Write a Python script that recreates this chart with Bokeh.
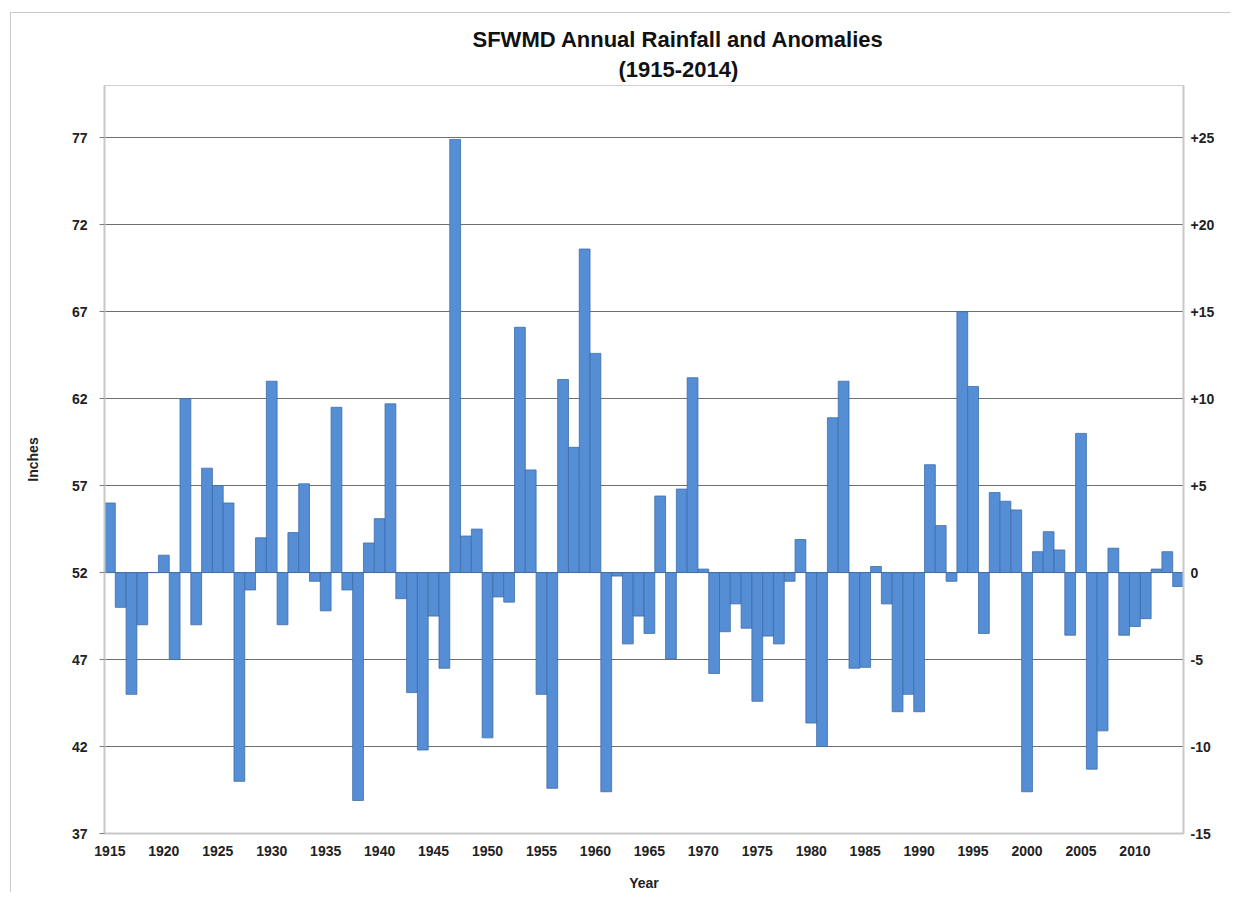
from bokeh.plotting import figure
from bokeh.models import (Range1d, LinearAxis, FixedTicker, Title, ColumnDataSource)
from bokeh.embed import file_html
from bokeh.resources import INLINE

years = list(range(1915, 2015))
rainfall = [
    56.0, 50.0, 45.0, 49.0, 52.0, 53.0, 47.0, 62.0, 49.0, 58.0,   # 1915-1924
    57.0, 56.0, 40.0, 51.0, 54.0, 63.0, 49.0, 54.3, 57.1, 51.5,   # 1925-1934
    49.8, 61.5, 51.0, 38.9, 53.7, 55.1, 61.7, 50.5, 45.1, 41.8,   # 1935-1944
    49.5, 46.5, 76.9, 54.1, 54.5, 42.5, 50.6, 50.3, 66.1, 57.9,   # 1945-1954
    45.0, 39.6, 63.1, 59.2, 70.6, 64.6, 39.4, 51.8, 47.9, 49.5,   # 1955-1964
    48.5, 56.4, 47.05, 56.8, 63.2, 52.2, 46.2, 48.6, 50.2, 48.8,  # 1965-1974
    44.6, 48.35, 47.9, 51.5, 53.9, 43.35, 42.0, 60.9, 63.0, 46.5, # 1975-1984
    46.55, 52.35, 50.2, 44.0, 45.0, 44.0, 58.2, 54.7, 51.5, 67.0, # 1985-1994
    62.7, 48.5, 56.6, 56.1, 55.6, 39.4, 53.2, 54.35, 53.3, 48.4,  # 1995-2004
    60.0, 40.7, 42.9, 53.4, 48.4, 48.9, 49.35, 52.2, 53.2, 51.2,  # 2005-2014
]
baseline = 52.0
left_ticks = [37, 42, 47, 52, 57, 62, 67, 72, 77]
right_ticks = [-15, -10, -5, 0, 5, 10, 15, 20, 25]
right_labels = ["-15", "-10", "-5", "0", "+5", "+10", "+15", "+20", "+25"]
x_ticks = list(range(1915, 2011, 5))

src = ColumnDataSource(dict(x=years, top=rainfall, bottom=[baseline] * len(years)))

FONT = "Liberation Sans"

p = figure(width=1220, height=880, output_backend="svg", toolbar_location=None,
           x_range=Range1d(1914.5, 2014.5), y_range=Range1d(37, 80),
           min_border_left=93, min_border_right=48, min_border_top=72, min_border_bottom=57,
           margin=(12, 0, 0, 10),
           styles={"border-top": "1px solid #c8c8c8", "border-left": "1px solid #c8c8c8"})
p.outline_line_color = "#d0d0d0"
p.outline_line_width = 1

p.extra_y_ranges = {"anom": Range1d(37 - baseline, 80 - baseline)}

p.vbar(x="x", top="top", bottom="bottom", width=1.0, source=src,
       fill_color="#558ed5", line_color="#3d6ca8", line_width=0.8)

# grid
p.xgrid.visible = False
p.ygrid.ticker = FixedTicker(ticks=left_ticks)
p.ygrid.grid_line_color = "#6f6f6f"
p.ygrid.grid_line_width = 1

# left axis
ya = p.yaxis[0]
ya.ticker = FixedTicker(ticks=left_ticks)
ya.axis_label = "Inches"
ya.axis_line_color = "#c8c8c8"
ya.axis_line_width = 2
ya.major_tick_line_color = "#7f7f7f"
ya.major_tick_out = 5
ya.major_tick_in = 0
ya.minor_tick_line_color = None
ya.major_label_standoff = 12
ya.axis_label_standoff = 28

# bottom axis
xa = p.xaxis[0]
xa.ticker = FixedTicker(ticks=x_ticks)
xa.axis_label = "Year"
xa.axis_line_color = "#c8c8c8"
xa.axis_line_width = 2
xa.major_tick_line_color = None
xa.minor_tick_line_color = None
xa.major_tick_out = 0
xa.major_label_standoff = 12
xa.axis_label_standoff = 16

# right axis
ra = LinearAxis(y_range_name="anom", ticker=FixedTicker(ticks=right_ticks),
                major_label_overrides={t: l for t, l in zip(right_ticks, right_labels)})
ra.axis_line_color = "#c8c8c8"
ra.axis_line_width = 2
ra.major_tick_line_color = None
ra.minor_tick_line_color = None
ra.major_tick_out = 0
ra.major_label_standoff = 7
p.add_layout(ra, "right")

for ax in (ya, xa, ra):
    ax.major_label_text_font = FONT
    ax.major_label_text_font_style = "bold"
    ax.major_label_text_font_size = "14px"
    ax.major_label_text_color = "#222222"
    ax.axis_label_text_font = FONT
    ax.axis_label_text_font_style = "bold"
    ax.axis_label_text_font_size = "14px"
    ax.axis_label_text_color = "#222222"

p.add_layout(Title(text="(1915-2014)", align="left", text_font=FONT,
                   text_font_style="bold", text_font_size="22px", text_color="#111111",
                   offset=514, standoff=7), "above")
p.add_layout(Title(text="SFWMD Annual Rainfall and Anomalies", align="left", text_font=FONT,
                   text_font_style="bold", text_font_size="22px", text_color="#111111",
                   offset=368, standoff=0), "above")

open("out.html", "w").write(file_html(p, INLINE))
